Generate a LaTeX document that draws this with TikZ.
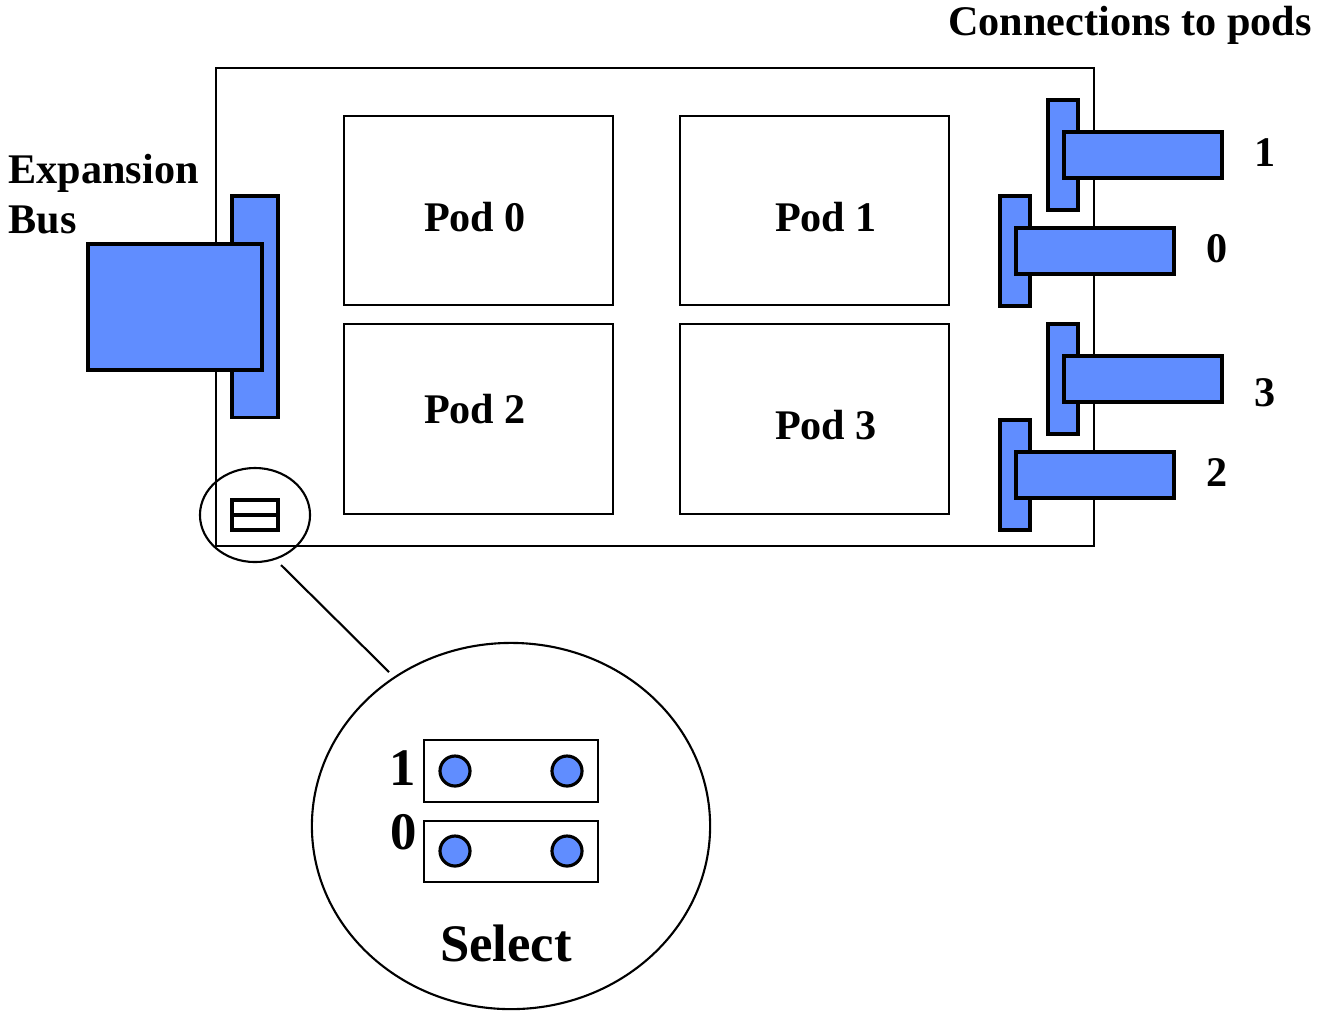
\documentclass[tikz,border=0pt]{standalone}
\usepackage{fontspec}
\setmainfont{Liberation Serif}
\usepackage{xcolor}
\usetikzlibrary{
    shapes.geometric,
    positioning,
    calc
}
\definecolor{podblue}{RGB}{96,141,255}

\begin{document}
\begin{tikzpicture}[x=0.01cm,y=-0.01cm,
        box/.style={draw,line width=0.6pt,inner sep=0pt},
        blue box/.style={draw,line width=0.9pt,inner sep=0pt,fill=podblue},
        lbl/.style={font=\bfseries\fontsize{12}{14}\selectfont,inner sep=0pt},
        big lbl/.style={font=\bfseries\fontsize{15}{17}\selectfont,inner sep=0pt}]
    \useasboundingbox (0,0) rectangle (1322,1011);
    % board and pods
    \node[box,minimum width=8.78cm,minimum height=4.78cm] (board) at (655,307) {};
    \node[box,minimum width=2.69cm,minimum height=1.89cm] (pod0) at (478.5,210.5) {};
    \node[box,minimum width=2.69cm,minimum height=1.89cm] (pod1) at (814.5,210.5) {};
    \node[box,minimum width=2.69cm,minimum height=1.90cm] (pod2) at (478.5,419) {};
    \node[box,minimum width=2.69cm,minimum height=1.90cm] (pod3) at (814.5,419) {};
    \node[lbl] (podlbl0) at (475,217) {Pod 0};
    \node[lbl] (podlbl1) at (826,217) {Pod 1};
    \node[lbl] (podlbl2) at (475,409) {Pod 2};
    \node[lbl] (podlbl3) at (826,425) {Pod 3};
    % expansion bus
    \node[blue box,minimum width=0.46cm,minimum height=2.21cm] (busslot) at (255,306.5) {};
    \node[blue box,minimum width=1.74cm,minimum height=1.26cm] (busplug) at (175,307) {};
    \node[lbl,align=left,anchor=west] (buslbl) at (8,194) {Expansion\\Bus};
    % connections to pods
    \node[lbl] (connlbl) at (1130,25) {Connections to pods};
    \foreach \cx/\cy/\ly/\n in {1048/100/153/1, 1000/196/249/0, 1048/324/393/3, 1000/420/473/2} {
        \node[blue box,minimum width=0.3cm,minimum height=1.1cm] (pin\n) at (\cx+15,\cy+55) {};
        \node[blue box,minimum width=1.58cm,minimum height=0.46cm] (plug\n) at (\cx+95,\cy+55) {};
        \node[lbl] (num\n) at (\cx+217,\ly) {\n};
    }
    % select jumper
    \node[box,line width=1pt,minimum width=0.46cm,minimum height=0.15cm] (jmpA) at (255,507.5) {};
    \node[box,line width=1pt,minimum width=0.46cm,minimum height=0.15cm] (jmpB) at (255,522.5) {};
    \node[draw,line width=0.6pt,ellipse,minimum width=1.1cm,minimum height=0.94cm] (selsmall) at (255,515) {};
    \node[draw,line width=0.6pt,ellipse,minimum width=3.98cm,minimum height=3.66cm] (selbig) at (511,826) {};
    \draw[line width=0.6pt] ($(selsmall.center)+(26,50)$) -- ($(selbig.center)+(-122,-154)$);
    \node[box,minimum width=1.74cm,minimum height=0.62cm] (row1) at (511,771) {};
    \node[box,minimum width=1.74cm,minimum height=0.61cm] (row0) at (511,851.5) {};
    \foreach \px/\py/\m in {455/771/a, 567/771/b, 455/851/c, 567/851/d}
        \node[blue box,circle,minimum size=0.3cm] (dot\m) at (\px,\py) {};
    \node[big lbl] (rowlbl1) at (403,768) {1};
    \node[big lbl] (rowlbl0) at (404,832) {0};
    \node[big lbl] (sellbl) at (506,943) {Select};
\end{tikzpicture}
\end{document}
